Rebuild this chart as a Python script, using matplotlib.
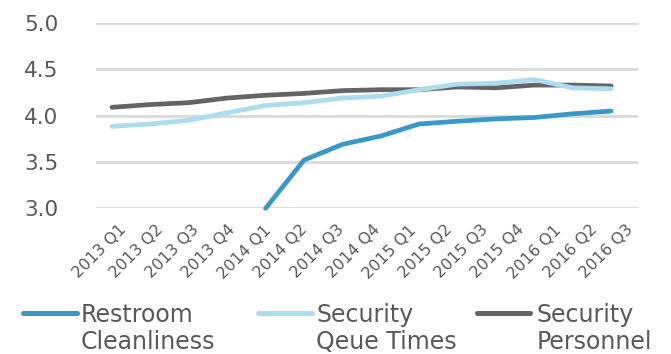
import numpy as np
import matplotlib
matplotlib.use("Agg")
import matplotlib.pyplot as plt
from matplotlib.lines import Line2D

quarters = ["2013 Q1", "2013 Q2", "2013 Q3", "2013 Q4", "2014 Q1", "2014 Q2", "2014 Q3",
            "2014 Q4", "2015 Q1", "2015 Q2", "2015 Q3", "2015 Q4", "2016 Q1", "2016 Q2",
            "2016 Q3"]

# 14 plotted points per series (restroom starts at the 5th)
restroom = [np.nan, np.nan, np.nan, np.nan, 3.00, 3.52, 3.69, 3.78, 3.91, 3.94, 3.965, 3.98, 4.02, 4.05]
queue_times = [3.885, 3.91, 3.95, 4.03, 4.11, 4.14, 4.19, 4.21, 4.28, 4.34, 4.35, 4.39, 4.30, 4.29]
personnel = [4.09, 4.12, 4.14, 4.19, 4.22, 4.24, 4.27, 4.28, 4.28, 4.31, 4.30, 4.33, 4.33, 4.32]

series_names = [("Restroom", "Cleanliness"), ("Security", "Qeue Times"), ("Security", "Personnel")]
colors = ["#3a98c9", "#acdcee", "#646464"]
text_color = "#595959"

W, H = 671, 354
fig = plt.figure(figsize=(W / 100, H / 100), dpi=100)

def fx(px):
    return px / W

def fy(py):
    return 1 - py / H

ax = fig.add_axes([fx(96), fy(208.3), fx(638) - fx(96), fy(23) - fy(208.3)])

x = np.arange(len(personnel))
for vals, c in zip([personnel, queue_times, restroom], [colors[2], colors[1], colors[0]]):
    ax.plot(x, vals, color=c, lw=3.4, solid_capstyle="round", solid_joinstyle="round",
            clip_on=False, zorder=3)

ax.set_xlim(-0.417, 13.70)
ax.set_ylim(3.0, 5.0)
ax.set_yticks([3.0, 3.5, 4.0, 4.5, 5.0])
ax.set_yticklabels([f"{v:.1f}" for v in [3.0, 3.5, 4.0, 4.5, 5.0]])
ax.grid(axis="y", color="#d9d9d9", lw=2)
ax.set_axisbelow(True)
for s in ax.spines.values():
    s.set_visible(False)

ax.set_xticks(np.linspace(0.45, 13.65, len(quarters)))
ax.set_xticklabels(quarters, rotation=45, ha="right", rotation_mode="default")
ax.tick_params(axis="x", length=0, pad=10, labelsize=11.5, labelcolor=text_color)
ax.tick_params(axis="y", length=0, pad=27, labelsize=15.5, labelcolor=text_color)

# legend drawn by hand: handle aligned with the first text line
handles_px = [(22.7, 77), (257.7, 311.7), (476.7, 530)]
text_x = [81, 316, 537]
for (x0, x1), tx, (l1, l2), c in zip(handles_px, text_x, series_names, colors):
    fig.add_artist(Line2D([fx(x0), fx(x1)], [fy(312.7), fy(312.7)], color=c, lw=3.6,
                          solid_capstyle="round", transform=fig.transFigure))
    fig.text(fx(tx), fy(321.7), l1, fontsize=17, color=text_color, va="baseline")
    fig.text(fx(tx), fy(349), l2, fontsize=17, color=text_color, va="baseline")

fig.savefig("out.png", dpi=100)
